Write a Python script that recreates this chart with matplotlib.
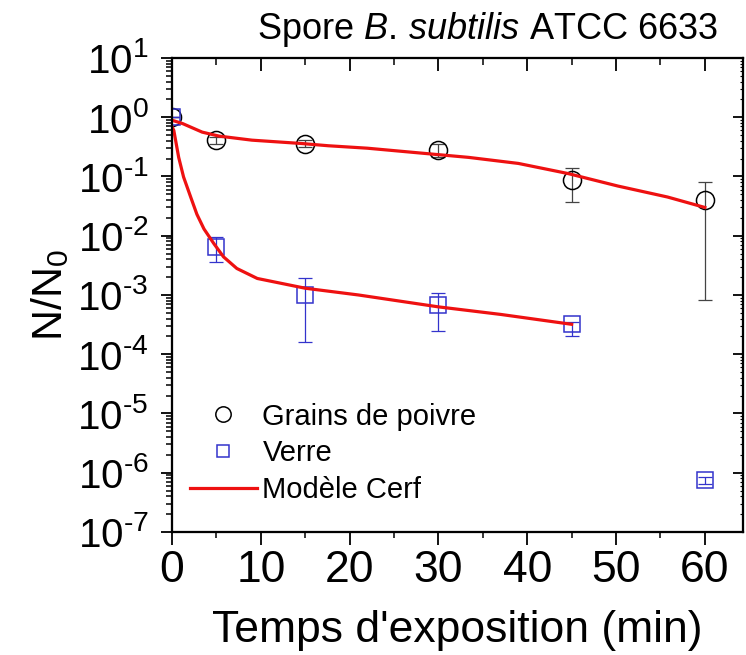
import matplotlib
matplotlib.use("Agg")
import matplotlib.pyplot as plt
from matplotlib.ticker import LogLocator, NullFormatter, FuncFormatter
import numpy as np

plt.rcParams['font.family'] = ['Liberation Sans', 'DejaVu Sans']
plt.rcParams['mathtext.fontset'] = 'custom'
plt.rcParams['mathtext.rm'] = 'Liberation Sans'
plt.rcParams['mathtext.it'] = 'Liberation Sans:italic'
plt.rcParams['mathtext.default'] = 'regular'
plt.rcParams['axes.unicode_minus'] = False

# données
temps = [0, 5, 15, 30, 45, 60]
poivre = [1.0, 0.41, 0.36, 0.28, 0.087, 0.04]
poivre_bas = [1.0, 0.36, 0.32, 0.21, 0.037, 0.00083]
poivre_haut = [1.0, 0.46, 0.41, 0.36, 0.14, 0.082]

temps_verre = [0, 5, 15, 30, 45, 60]
verre = [1.0, 0.0064, 0.001, 0.00067, 0.00032, 7.4e-7]
verre_bas = [1.0, 0.0036, 0.00016, 0.00025, 0.0002, 6.5e-7]
verre_haut = [1.0, 0.0094, 0.0019, 0.0011, 0.00035, 8.5e-7]

# modèle de Cerf (courbes relevées point par point sur la figure)
t_modele_poivre = [0, 1.2, 3.4, 5.3, 9, 14.6, 17.6, 22, 27.8, 33.4, 39, 44.6, 50.2, 55.8, 60]
modele_poivre = [0.89, 0.78, 0.56, 0.48, 0.41, 0.36, 0.33, 0.30, 0.25, 0.21, 0.166,
                 0.112, 0.069, 0.045, 0.030]
t_modele_verre = [0, 0.2, 0.75, 1.3, 2.1, 2.8, 3.6, 4.7, 5.8, 7.3, 9.6, 15, 21, 30, 37, 45]
modele_verre = [0.69, 0.60, 0.21, 0.098, 0.045, 0.023, 0.013, 0.0074, 0.0044, 0.0028,
                0.0019, 0.0013, 0.001, 0.00063, 0.00047, 0.00032]


def puissance(y, pos):
    # 10 avec exposant, tiret court comme sur l'original
    k = int(round(np.log10(y)))
    if k < 0:
        return r'$10^{\text{-}%d}$' % (-k)
    return r'$10^{%d}$' % k


fig = plt.figure(figsize=(7.46, 6.55), dpi=100)
ax = fig.add_axes([0.2306, 0.1878, 0.7654, 0.7237])

p = np.array(poivre)
ax.errorbar(temps, poivre, yerr=[p - np.array(poivre_bas), np.array(poivre_haut) - p],
            fmt='none', ecolor='#444444', elinewidth=0.9, capsize=5, capthick=0.9, zorder=2)
ax.plot(temps, poivre, 'o', ms=13, mfc='none', mec='black', mew=1.1, zorder=3,
        label='Grains de poivre')

v = np.array(verre)
ax.errorbar(temps_verre, verre, yerr=[v - np.array(verre_bas), np.array(verre_haut) - v],
            fmt='none', ecolor='#3333cc', elinewidth=0.9, capsize=5, capthick=0.9, zorder=2)
ax.plot(temps_verre, verre, 's', ms=11, mfc='none', mec='#3333cc', mew=1.1, zorder=3,
        label='Verre')

ax.plot(t_modele_poivre, modele_poivre, color='#ee1111', lw=2.3, zorder=4, label='Modèle Cerf')
ax.plot(t_modele_verre, modele_verre, color='#ee1111', lw=2.3, zorder=4)

ax.set_yscale('log')
ax.set_ylim(1e-7, 10)
ax.set_xlim(0, 64.3)
ax.set_xticks([0, 10, 20, 30, 40, 50, 60])
ax.set_xticks([5, 15, 25, 35, 45, 55], minor=True)
ax.yaxis.set_major_locator(LogLocator(base=10, numticks=20))
ax.yaxis.set_minor_locator(LogLocator(base=10, subs=np.arange(2, 10), numticks=20))
ax.yaxis.set_major_formatter(FuncFormatter(puissance))
ax.yaxis.set_minor_formatter(NullFormatter())

for s in ax.spines.values():
    s.set_linewidth(1.5)

ax.tick_params(axis='x', which='major', labelsize=32, width=1.3, length=9, pad=4)
ax.tick_params(axis='y', which='major', labelsize=29, width=1.3, length=8, pad=9)
ax.tick_params(axis='both', which='minor', width=1.1, length=4.5)
ax.tick_params(axis='y', which='both', direction='out', left=True, right=False)
ax.tick_params(axis='x', which='both', direction='out', bottom=True, top=False)

# graduations intérieures en haut et à droite
ax_haut = ax.twiny()
ax_haut.set_xlim(ax.get_xlim())
ax_haut.set_xticks([0, 10, 20, 30, 40, 50, 60])
ax_haut.set_xticks([5, 15, 25, 35, 45, 55], minor=True)
ax_haut.tick_params(which='major', direction='in', length=9, width=1.3, labeltop=False)
ax_haut.tick_params(which='minor', direction='in', length=5, width=1.1)
ax_droite = ax.twinx()
ax_droite.set_yscale('log')
ax_droite.set_ylim(ax.get_ylim())
ax_droite.yaxis.set_major_locator(LogLocator(base=10, numticks=20))
ax_droite.yaxis.set_minor_locator(LogLocator(base=10, subs=np.arange(2, 10), numticks=20))
ax_droite.tick_params(which='major', direction='in', length=7, width=1.3, labelright=False)
ax_droite.tick_params(which='minor', direction='in', length=2.5, width=0.8)
ax_droite.yaxis.set_minor_formatter(NullFormatter())
for a in (ax_haut, ax_droite):
    for s in a.spines.values():
        s.set_linewidth(1.5)

ax.set_xlabel("Temps d'exposition (min)", fontsize=32, labelpad=14)
ax.set_ylabel('N/N$_0$', fontsize=31, labelpad=4)

fig.text(0.963, 0.955, r'Spore $\mathit{B.\,subtilis}$ ATCC 6633', fontsize=26,
         ha='right', va='center')

ax.legend(loc='upper left', bbox_to_anchor=(0.0, 0.31), frameon=False, fontsize=21,
          handlelength=2.3, handletextpad=0.2, labelspacing=0.3, markerscale=0.85,
          borderaxespad=0.2)

fig.savefig('out.png', dpi=100)
